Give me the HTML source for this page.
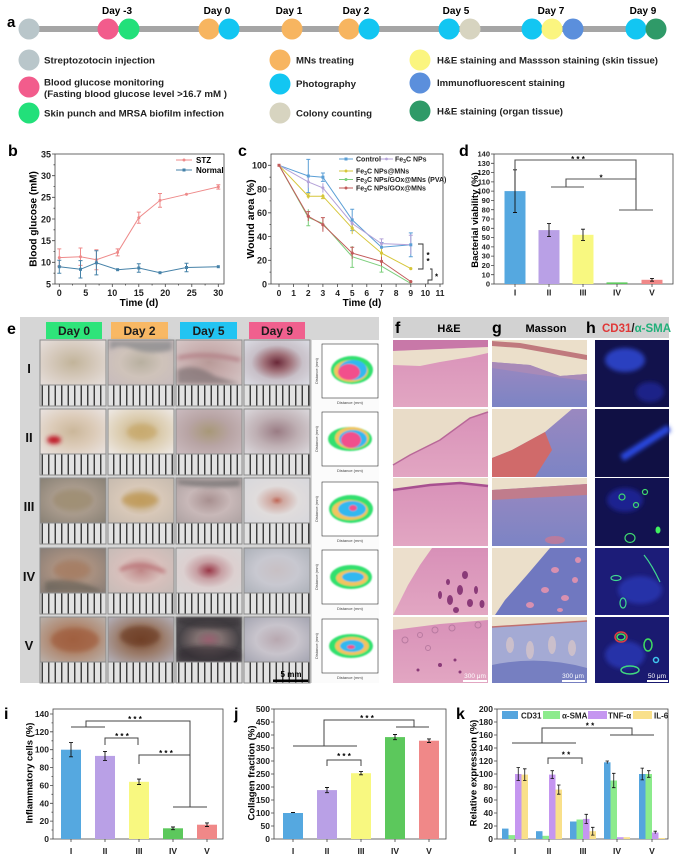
<!DOCTYPE html>
<html><head><meta charset="utf-8">
<style>
html,body{margin:0;padding:0;background:#fff;}
svg{display:block;font-family:"Liberation Sans",Arial,sans-serif;font-weight:bold;}
</style></head><body>
<svg width="691" height="866" viewBox="0 0 691 866" xmlns="http://www.w3.org/2000/svg">
<defs>
 <pattern id="ruler" x="0" y="0" width="6.5" height="30" patternUnits="userSpaceOnUse">
  <rect width="6.5" height="30" fill="#e2e2e2"/>
  <rect x="2.6" y="0" width="1.3" height="30" fill="#2b2b2b"/>
 </pattern>
 <filter id="bl" x="-20%" y="-20%" width="140%" height="140%"><feGaussianBlur stdDeviation="2"/></filter>
 <filter id="bl1"><feGaussianBlur stdDeviation="0.8"/></filter>
 <radialGradient id="p11" r="65%"><stop offset="0" stop-color="#c2b49a"/><stop offset=".55" stop-color="#d6cabd"/><stop offset="1" stop-color="#e4dcd8"/></radialGradient>
 <radialGradient id="p12" r="65%"><stop offset="0" stop-color="#b8b0a0"/><stop offset=".5" stop-color="#cfc3ba"/><stop offset="1" stop-color="#c8bcbc"/></radialGradient>
 <radialGradient id="p13" r="65%"><stop offset="0" stop-color="#b89a98"/><stop offset=".5" stop-color="#c8aeae"/><stop offset="1" stop-color="#d4c4c4"/></radialGradient>
 <radialGradient id="p14" r="65%"><stop offset="0" stop-color="#6a2838"/><stop offset=".3" stop-color="#a07078"/><stop offset=".6" stop-color="#c8c0c8"/><stop offset="1" stop-color="#d8d8e0"/></radialGradient>
 <radialGradient id="p21" r="65%"><stop offset="0" stop-color="#cbb79a"/><stop offset=".5" stop-color="#dccbb8"/><stop offset="1" stop-color="#e8e0dc"/></radialGradient>
 <radialGradient id="p22" r="65%"><stop offset="0" stop-color="#c8b080"/><stop offset=".5" stop-color="#dccdb0"/><stop offset="1" stop-color="#ece6e0"/></radialGradient>
 <radialGradient id="p23" r="65%"><stop offset="0" stop-color="#a89878"/><stop offset=".5" stop-color="#b8a4a4"/><stop offset="1" stop-color="#c8b8bc"/></radialGradient>
 <radialGradient id="p24" r="65%"><stop offset="0" stop-color="#9a7c84"/><stop offset=".5" stop-color="#bfb0b4"/><stop offset="1" stop-color="#d8d4d8"/></radialGradient>
 <radialGradient id="p31" r="65%"><stop offset="0" stop-color="#a89c80"/><stop offset=".5" stop-color="#a89a8c"/><stop offset="1" stop-color="#8c8478"/></radialGradient>
 <radialGradient id="p32" r="65%"><stop offset="0" stop-color="#c0a470"/><stop offset=".5" stop-color="#d8c8b8"/><stop offset="1" stop-color="#c8bcb0"/></radialGradient>
 <radialGradient id="p33" r="65%"><stop offset="0" stop-color="#a89090"/><stop offset=".5" stop-color="#c8b8b8"/><stop offset="1" stop-color="#b0a4a4"/></radialGradient>
 <radialGradient id="p34" r="65%"><stop offset="0" stop-color="#c06858"/><stop offset=".15" stop-color="#d0a8a0"/><stop offset=".5" stop-color="#e0dcdc"/><stop offset="1" stop-color="#d8d8dc"/></radialGradient>
 <radialGradient id="p41" r="65%"><stop offset="0" stop-color="#a48470"/><stop offset=".5" stop-color="#a89080"/><stop offset="1" stop-color="#8c8078"/></radialGradient>
 <radialGradient id="p42" r="65%"><stop offset="0" stop-color="#c08888"/><stop offset=".5" stop-color="#d8c0bc"/><stop offset="1" stop-color="#c8bcb8"/></radialGradient>
 <radialGradient id="p43" r="65%"><stop offset="0" stop-color="#9a3848"/><stop offset=".3" stop-color="#c8a0a4"/><stop offset=".6" stop-color="#dcd0d0"/><stop offset="1" stop-color="#d8d4d4"/></radialGradient>
 <radialGradient id="p44" r="65%"><stop offset="0" stop-color="#c8c0c4"/><stop offset=".5" stop-color="#c8c8d0"/><stop offset="1" stop-color="#b0b4bc"/></radialGradient>
 <radialGradient id="p51" r="65%"><stop offset="0" stop-color="#a06848"/><stop offset=".5" stop-color="#b08870"/><stop offset="1" stop-color="#b8aca4"/></radialGradient>
 <radialGradient id="p52" r="65%"><stop offset="0" stop-color="#7a4a30"/><stop offset=".5" stop-color="#9a7a68"/><stop offset="1" stop-color="#b0aab0"/></radialGradient>
 <radialGradient id="p53" r="65%"><stop offset="0" stop-color="#986070"/><stop offset=".3" stop-color="#807070"/><stop offset=".7" stop-color="#484448"/><stop offset="1" stop-color="#585458"/></radialGradient>
 <radialGradient id="p54" r="65%"><stop offset="0" stop-color="#b8a8b0"/><stop offset=".5" stop-color="#c8c4cc"/><stop offset="1" stop-color="#a8a8b4"/></radialGradient>
 <linearGradient id="he" x1="0" y1="0" x2="0" y2="1"><stop offset="0" stop-color="#d890b8"/><stop offset="1" stop-color="#e2a6c2"/></linearGradient>
 <linearGradient id="ms" x1="0" y1="0" x2="0" y2="1"><stop offset="0" stop-color="#9a88c0"/><stop offset="1" stop-color="#7c84c4"/></linearGradient>
</defs>

<!-- ===================== Panel a ===================== -->
<text x="7" y="27" font-size="15">a</text>
<g font-size="10" text-anchor="middle">
 <text x="117" y="14">Day -3</text>
 <text x="217" y="14">Day 0</text>
 <text x="289" y="14">Day 1</text>
 <text x="356" y="14">Day 2</text>
 <text x="456" y="14">Day 5</text>
 <text x="551" y="14">Day 7</text>
 <text x="643" y="14">Day 9</text>
</g>
<rect x="29" y="26" width="627" height="6" fill="#a5a5a5"/>
<g>
 <circle cx="29" cy="29" r="10.5" fill="#b9c6ca"/>
 <circle cx="108" cy="29" r="10.5" fill="#f25c8c"/>
 <circle cx="129" cy="29" r="10.5" fill="#22e07a"/>
 <circle cx="209" cy="29" r="10.5" fill="#f7b560"/>
 <circle cx="229" cy="29" r="10.5" fill="#12c6f2"/>
 <circle cx="292" cy="29" r="10.5" fill="#f7b560"/>
 <circle cx="349" cy="29" r="10.5" fill="#f7b560"/>
 <circle cx="369" cy="29" r="10.5" fill="#12c6f2"/>
 <circle cx="449" cy="29" r="10.5" fill="#12c6f2"/>
 <circle cx="470" cy="29" r="10.5" fill="#d7d4c0"/>
 <circle cx="532" cy="29" r="10.5" fill="#12c6f2"/>
 <circle cx="552" cy="29" r="10.5" fill="#fbf57f"/>
 <circle cx="573" cy="29" r="10.5" fill="#5b8fdc"/>
 <circle cx="636" cy="29" r="10.5" fill="#12c6f2"/>
 <circle cx="656" cy="29" r="10.5" fill="#2f9a68"/>
</g>
<g>
 <circle cx="29" cy="60" r="10.5" fill="#b9c6ca"/>
 <circle cx="29" cy="87" r="10.5" fill="#f25c8c"/>
 <circle cx="29" cy="113" r="10.5" fill="#22e07a"/>
 <circle cx="280" cy="60" r="10.5" fill="#f7b560"/>
 <circle cx="280" cy="84" r="10.5" fill="#12c6f2"/>
 <circle cx="280" cy="113" r="10.5" fill="#d7d4c0"/>
 <circle cx="420" cy="60" r="10.5" fill="#fbf57f"/>
 <circle cx="420" cy="83" r="10.5" fill="#5b8fdc"/>
 <circle cx="420" cy="111" r="10.5" fill="#2f9a68"/>
</g>
<g font-size="9.5" fill="#222">
 <text x="44" y="63.5" textLength="111" lengthAdjust="spacingAndGlyphs">Streptozotocin injection</text>
 <text x="44" y="85.5" textLength="120" lengthAdjust="spacingAndGlyphs">Blood glucose monitoring</text>
 <text x="44" y="97" textLength="183" lengthAdjust="spacingAndGlyphs">(Fasting blood glucose level &gt;16.7 mM )</text>
 <text x="44" y="116.5" textLength="180" lengthAdjust="spacingAndGlyphs">Skin punch and MRSA biofilm infection</text>
 <text x="296" y="63.5" textLength="58" lengthAdjust="spacingAndGlyphs">MNs treating</text>
 <text x="296" y="87" textLength="60" lengthAdjust="spacingAndGlyphs">Photography</text>
 <text x="296" y="116.5" textLength="76" lengthAdjust="spacingAndGlyphs">Colony counting</text>
 <text x="437" y="63.5" textLength="221" lengthAdjust="spacingAndGlyphs">H&amp;E staining and Massson staining (skin tissue)</text>
 <text x="437" y="86" textLength="128" lengthAdjust="spacingAndGlyphs">Immunofluorescent staining</text>
 <text x="437" y="114.5" textLength="126" lengthAdjust="spacingAndGlyphs">H&amp;E staining (organ tissue)</text>
</g>

<!-- ===================== Panel b ===================== -->
<text x="8" y="156" font-size="16">b</text>
<rect x="55" y="154" width="169" height="130" fill="none" stroke="#444" stroke-width="0.8"/>
<g stroke="#444" stroke-width="0.8">
 <path d="M52,284H55M52,262.3H55M52,240.7H55M52,219H55M52,197.3H55M52,175.7H55M52,154H55"/>
 <path d="M53.5,273.2H55M53.5,251.5H55M53.5,229.8H55M53.5,208.2H55M53.5,186.5H55M53.5,164.8H55"/>
 <path d="M59.3,284V287M85.8,284V287M112.3,284V287M138.8,284V287M165.3,284V287M191.8,284V287M218.3,284V287"/>
 <path d="M72.6,284V285.5M99.1,284V285.5M125.6,284V285.5M152.1,284V285.5M178.6,284V285.5M205.1,284V285.5"/>
</g>
<g font-size="9" text-anchor="end" fill="#222">
 <text x="51" y="287.3">5</text><text x="51" y="265.6">10</text><text x="51" y="244">15</text>
 <text x="51" y="222.3">20</text><text x="51" y="200.6">25</text><text x="51" y="179">30</text><text x="51" y="157.3">35</text>
</g>
<g font-size="9" text-anchor="middle" fill="#222">
 <text x="59.3" y="296">0</text><text x="85.8" y="296">5</text><text x="112.3" y="296">10</text><text x="138.8" y="296">15</text>
 <text x="165.3" y="296">20</text><text x="191.8" y="296">25</text><text x="218.3" y="296">30</text>
</g>
<text x="139" y="306" font-size="10" text-anchor="middle">Time (d)</text>
<text transform="translate(36.5,219) rotate(-90)" font-size="10" text-anchor="middle">Blood glucose (mM)</text>
<!-- STZ -->
<g stroke="#ee8a8a" stroke-width="1" fill="none">
 <polyline points="59.3,257.6 80.5,256.7 96.4,259.7 117.6,252.4 138.8,217.7 160,200.4 186.5,194.3 218.3,186.9"/>
 <path d="M59.3,248.9V266.3M57.3,248.9H61.3M57.3,266.3H61.3 M80.5,248V265.4M78.5,248H82.5M78.5,265.4H82.5 M96.4,249.7V269.7M94.4,249.7H98.4M94.4,269.7H98.4 M117.6,248.9V255.9M115.6,248.9H119.6M115.6,255.9H119.6 M138.8,212.1V223.3M136.8,212.1H140.8M136.8,223.3H140.8 M160,193.5V207.3M158,193.5H162M158,207.3H162 M186.5,193V195.6 M218.3,184.7V189.1M216.3,184.7H220.3M216.3,189.1H220.3"/>
</g>
<g fill="#ee8a8a"><circle cx="59.3" cy="257.6" r="1.5"/><circle cx="80.5" cy="256.7" r="1.5"/><circle cx="96.4" cy="259.7" r="1.5"/><circle cx="117.6" cy="252.4" r="1.5"/><circle cx="138.8" cy="217.7" r="1.5"/><circle cx="160" cy="200.4" r="1.5"/><circle cx="186.5" cy="194.3" r="1.5"/><circle cx="218.3" cy="186.9" r="1.5"/></g>
<!-- Normal -->
<g stroke="#4682a8" stroke-width="1" fill="none">
 <polyline points="59.3,266.7 80.5,269.3 96.4,262.8 117.6,269.7 138.8,268 160,272.7 186.5,267.5 218.3,266.7"/>
 <path d="M59.3,260.2V273.2M57.3,260.2H61.3M57.3,273.2H61.3 M80.5,260.6V278M78.5,260.6H82.5M78.5,278H82.5 M96.4,250.7V274.9M94.4,250.7H98.4M94.4,274.9H98.4 M138.8,263.7V272.3M136.8,263.7H140.8M136.8,272.3H140.8 M186.5,263.2V271.8M184.5,263.2H188.5M184.5,271.8H188.5"/>
</g>
<g fill="#4682a8"><rect x="57.8" y="265.2" width="3" height="3"/><rect x="79" y="267.8" width="3" height="3"/><rect x="94.9" y="261.3" width="3" height="3"/><rect x="116.1" y="268.2" width="3" height="3"/><rect x="137.3" y="266.5" width="3" height="3"/><rect x="158.5" y="271.2" width="3" height="3"/><rect x="185" y="266" width="3" height="3"/><rect x="216.8" y="265.2" width="3" height="3"/></g>
<line x1="176" y1="160" x2="192" y2="160" stroke="#ee8a8a" stroke-width="1"/><circle cx="184" cy="160" r="1.5" fill="#ee8a8a"/>
<text x="196" y="163" font-size="8">STZ</text>
<line x1="176" y1="170" x2="192" y2="170" stroke="#4682a8" stroke-width="1"/><rect x="182.5" y="168.5" width="3" height="3" fill="#4682a8"/>
<text x="196" y="173" font-size="8">Normal</text>

<!-- ===================== Panel c ===================== -->
<text x="238" y="156" font-size="16">c</text>
<rect x="271" y="154" width="172" height="130" fill="none" stroke="#444" stroke-width="0.8"/>
<g stroke="#444" stroke-width="0.8">
 <path d="M268,284H271M268,260.3H271M268,236.5H271M268,212.8H271M268,189H271M268,165.3H271"/>
 <path d="M269.5,272.1H271M269.5,248.4H271M269.5,224.6H271M269.5,200.9H271M269.5,177.2H271"/>
 <path d="M279,284V287M293.6,284V287M308.3,284V287M322.9,284V287M337.6,284V287M352.2,284V287M366.8,284V287M381.5,284V287M396.1,284V287M410.8,284V287M425.4,284V287M440,284V287"/>
</g>
<g font-size="9" text-anchor="end" fill="#222">
 <text x="267" y="287.3">0</text><text x="267" y="263.6">20</text><text x="267" y="239.8">40</text>
 <text x="267" y="216.1">60</text><text x="267" y="192.3">80</text><text x="267" y="168.6">100</text>
</g>
<g font-size="8.5" text-anchor="middle" fill="#222">
 <text x="279" y="296">0</text><text x="293.6" y="296">1</text><text x="308.3" y="296">2</text><text x="322.9" y="296">3</text>
 <text x="337.6" y="296">4</text><text x="352.2" y="296">5</text><text x="366.8" y="296">6</text><text x="381.5" y="296">7</text>
 <text x="396.1" y="296">8</text><text x="410.8" y="296">9</text><text x="425.4" y="296">10</text><text x="440" y="296">11</text>
</g>
<text x="362" y="306" font-size="10" text-anchor="middle">Time (d)</text>
<text transform="translate(254,219) rotate(-90)" font-size="10.5" text-anchor="middle">Wound area (%)</text>
<g fill="none" stroke-width="1">
 <g stroke="#5b9fd6">
  <polyline points="279,165.3 308.3,176 322.9,177.2 352.2,219.9 381.5,247.2 410.8,244.8"/>
  <path d="M308.3,159.4V192.6M306.3,159.4H310.3M306.3,192.6H310.3 M322.9,173V181.4M320.9,173H324.9M320.9,181.4H324.9 M352.2,209.2V230.6M350.2,209.2H354.2M350.2,230.6H354.2 M381.5,242.5V251.9M379.5,242.5H383.5 M410.8,232.9V256.7M408.8,232.9H412.8M408.8,256.7H412.8"/>
 </g>
 <g stroke="#b4a2d8">
  <polyline points="279,165.3 308.3,181.9 322.9,187.9 352.2,223.5 381.5,243.6 410.8,244.8"/>
  <path d="M308.3,176V187.8M322.9,183.2V192.6M352.2,216.4V230.6M381.5,238.9V248.3M379.5,238.9H383.5M410.8,235.3V254.3M408.8,235.3H412.8"/>
 </g>
 <g stroke="#d6c63a">
  <polyline points="279,165.3 308.3,196.2 322.9,196.2 352.2,228.2 381.5,253.1 410.8,268.6"/>
  <path d="M308.3,193.8V198.6M306.3,193.8H310.3M322.9,193.8V198.6M320.9,198.6H324.9M352.2,222.3V234.1M381.5,247.2V259"/>
 </g>
 <g stroke="#7ccf7c">
  <polyline points="279,165.3 308.3,217.5 322.9,223.5 352.2,256.7 381.5,266.2 410.8,283.4"/>
  <path d="M308.3,209.2V225.8M306.3,225.8H310.3M322.9,217.6V229.4M352.2,246V267.4M350.2,267.4H354.2M381.5,260.3V272.1M379.5,272.1H383.5"/>
 </g>
 <g stroke="#c25a5a">
  <polyline points="279,165.3 308.3,216.3 322.9,224.7 352.2,253.1 381.5,261.4 410.8,281.6"/>
  <path d="M308.3,211.6V221M306.3,211.6H310.3M322.9,217.6V231.8M320.9,217.6H324.9M352.2,247.2V259M350.2,247.2H354.2M381.5,256.7V266.1M410.8,280.4V282.8"/>
 </g>
</g>
<g>
 <rect x="277.5" y="163.8" width="3" height="3" fill="#c25a5a"/>
 <rect x="306.8" y="174.5" width="3" height="3" fill="#5b9fd6"/><rect x="321.4" y="175.7" width="3" height="3" fill="#5b9fd6"/><rect x="350.7" y="218.4" width="3" height="3" fill="#5b9fd6"/><rect x="380" y="245.7" width="3" height="3" fill="#5b9fd6"/><rect x="409.3" y="243.3" width="3" height="3" fill="#5b9fd6"/>
 <circle cx="308.3" cy="181.9" r="1.5" fill="#b4a2d8"/><circle cx="322.9" cy="187.9" r="1.5" fill="#b4a2d8"/><circle cx="352.2" cy="223.5" r="1.5" fill="#b4a2d8"/><circle cx="381.5" cy="243.6" r="1.5" fill="#b4a2d8"/>
 <circle cx="308.3" cy="196.2" r="1.6" fill="#d6c63a"/><circle cx="322.9" cy="196.2" r="1.6" fill="#d6c63a"/><circle cx="352.2" cy="228.2" r="1.6" fill="#d6c63a"/><circle cx="381.5" cy="253.1" r="1.6" fill="#d6c63a"/><circle cx="410.8" cy="268.6" r="1.6" fill="#d6c63a"/>
 <circle cx="308.3" cy="216.3" r="1.6" fill="#c25a5a"/><circle cx="322.9" cy="224.7" r="1.6" fill="#c25a5a"/><circle cx="352.2" cy="253.1" r="1.6" fill="#c25a5a"/><circle cx="381.5" cy="261.4" r="1.6" fill="#c25a5a"/><circle cx="410.8" cy="281.6" r="1.6" fill="#c25a5a"/>
</g>
<!-- c legend -->
<g stroke-width="1">
 <line x1="339" y1="159" x2="353" y2="159" stroke="#5b9fd6"/><line x1="380" y1="159" x2="393" y2="159" stroke="#b4a2d8"/>
 <line x1="339" y1="171" x2="353" y2="171" stroke="#d6c63a"/>
 <line x1="339" y1="179.5" x2="353" y2="179.5" stroke="#7ccf7c"/>
 <line x1="339" y1="188" x2="353" y2="188" stroke="#c25a5a"/>
</g>
<rect x="344.5" y="157.5" width="3" height="3" fill="#5b9fd6"/><circle cx="386.5" cy="159" r="1.4" fill="#b4a2d8"/>
<circle cx="346" cy="171" r="1.5" fill="#d6c63a"/><circle cx="346" cy="179.5" r="1.5" fill="#7ccf7c"/><circle cx="346" cy="188" r="1.5" fill="#c25a5a"/>
<g font-size="7" fill="#222">
 <text x="356" y="161.5">Control</text>
 <text x="395" y="161.5">Fe<tspan font-size="5" dy="1.5">3</tspan><tspan dy="-1.5">C NPs</tspan></text>
 <text x="356" y="173.5">Fe<tspan font-size="5" dy="1.5">3</tspan><tspan dy="-1.5">C NPs@MNs</tspan></text>
 <text x="356" y="182">Fe<tspan font-size="5" dy="1.5">3</tspan><tspan dy="-1.5">C NPs/GOx@MNs (PVA)</tspan></text>
 <text x="356" y="190.5">Fe<tspan font-size="5" dy="1.5">3</tspan><tspan dy="-1.5">C NPs/GOx@MNs</tspan></text>
</g>
<path d="M418,244H423V269H418" fill="none" stroke="#333" stroke-width="0.9"/>
<g font-size="8" text-anchor="middle"><text x="428" y="258">*</text><text x="428" y="264">*</text><text x="436.5" y="279.5">*</text></g>
<path d="M430,269H432V280H428V284" fill="none" stroke="#333" stroke-width="0.9"/>

<!-- ===================== Panel d ===================== -->
<text x="459" y="156" font-size="16">d</text>
<rect x="494" y="154" width="179" height="130" fill="none" stroke="#444" stroke-width="0.8"/>
<g stroke="#444" stroke-width="0.8">
 <path d="M491,284H494M491,274.7H494M491,265.4H494M491,256.1H494M491,246.9H494M491,237.6H494M491,228.3H494M491,219H494M491,209.7H494M491,200.4H494M491,191.1H494M491,181.9H494M491,172.6H494M491,163.3H494M491,154H494"/>
 <path d="M515,284V287M549,284V287M583,284V287M617,284V287M652,284V287"/>
</g>
<g font-size="7.5" text-anchor="end" fill="#222">
 <text x="490" y="286.6">0</text><text x="490" y="277.3">10</text><text x="490" y="268">20</text><text x="490" y="258.7">30</text>
 <text x="490" y="249.5">40</text><text x="490" y="240.2">50</text><text x="490" y="230.9">60</text><text x="490" y="221.6">70</text>
 <text x="490" y="212.3">80</text><text x="490" y="203">90</text><text x="490" y="193.7">100</text><text x="490" y="184.5">110</text>
 <text x="490" y="175.2">120</text><text x="490" y="165.9">130</text><text x="490" y="156.6">140</text>
</g>
<g font-size="8.5" text-anchor="middle" fill="#222">
 <text x="515" y="295.5">I</text><text x="549" y="295.5">II</text><text x="583" y="295.5">III</text><text x="617" y="295.5">IV</text><text x="652" y="295.5">V</text>
</g>
<text transform="translate(478,220) rotate(-90)" font-size="9.5" text-anchor="middle">Bacterial viability (%)</text>
<rect x="504.5" y="191.1" width="21" height="92.9" fill="#55a8e0"/>
<rect x="538.5" y="230.1" width="21" height="53.9" fill="#b9a0e6"/>
<rect x="572.5" y="234.8" width="21" height="49.2" fill="#f8f880"/>
<rect x="606.5" y="282.4" width="21" height="1.6" fill="#5cc85c"/>
<rect x="641.5" y="279.8" width="21" height="4.2" fill="#f08888"/>
<path d="M515,169.8V212.5M513,169.8H517M513,212.5H517 M549,223.6V236.6M547,223.6H551M547,236.6H551 M583,229.2V240.4M581,229.2H585M581,240.4H585 M652,278.4V281.2M650,278.4H654M650,281.2H654" stroke="#111" stroke-width="0.9" fill="none"/>
<path d="M515,170V160H636V210M619,210H653 M566,187V179H636M551,187H584" stroke="#555" stroke-width="1.1" fill="none"/>
<g font-size="8" text-anchor="middle"><text x="578" y="162">* * *</text><text x="601" y="180.5">*</text></g>

<!-- ===================== Panel e ===================== -->
<text x="7" y="334" font-size="16">e</text>
<rect x="20" y="317" width="359" height="366" fill="#d6d6d6"/>
<rect x="312" y="340" width="67" height="343" fill="#fbfbfb"/>
<rect x="46" y="322" width="56" height="17" fill="#2ee47a"/>
<rect x="111" y="322" width="57" height="17" fill="#f8b864"/>
<rect x="180" y="322" width="57" height="17" fill="#22c4f2"/>
<rect x="249" y="322" width="56" height="17" fill="#f0608e"/>
<g font-size="12" text-anchor="middle" fill="#1c1c1c">
 <text x="74" y="335">Day 0</text><text x="139.5" y="335">Day 2</text><text x="208.5" y="335">Day 5</text><text x="277" y="335">Day 9</text>
</g>
<g font-size="13" text-anchor="middle" fill="#111">
 <text x="29" y="373">I</text><text x="29" y="442">II</text><text x="29" y="511">III</text><text x="29" y="581">IV</text><text x="29" y="650">V</text>
</g>
<g stroke="#8c8c8c" stroke-width="1">
 <rect x="40" y="340" width="66" height="45" fill="url(#p11)"/>
 <rect x="108" y="340" width="66" height="45" fill="url(#p12)"/>
 <rect x="176" y="340" width="66" height="45" fill="url(#p13)"/>
 <rect x="244" y="340" width="66" height="45" fill="url(#p14)"/>
 <rect x="40" y="409" width="66" height="45" fill="url(#p21)"/>
 <rect x="108" y="409" width="66" height="45" fill="url(#p22)"/>
 <rect x="176" y="409" width="66" height="45" fill="url(#p23)"/>
 <rect x="244" y="409" width="66" height="45" fill="url(#p24)"/>
 <rect x="40" y="478" width="66" height="45" fill="url(#p31)"/>
 <rect x="108" y="478" width="66" height="45" fill="url(#p32)"/>
 <rect x="176" y="478" width="66" height="45" fill="url(#p33)"/>
 <rect x="244" y="478" width="66" height="45" fill="url(#p34)"/>
 <rect x="40" y="548" width="66" height="45" fill="url(#p41)"/>
 <rect x="108" y="548" width="66" height="45" fill="url(#p42)"/>
 <rect x="176" y="548" width="66" height="45" fill="url(#p43)"/>
 <rect x="244" y="548" width="66" height="45" fill="url(#p44)"/>
 <rect x="40" y="617" width="66" height="45" fill="url(#p51)"/>
 <rect x="108" y="617" width="66" height="45" fill="url(#p52)"/>
 <rect x="176" y="617" width="66" height="45" fill="url(#p53)"/>
 <rect x="244" y="617" width="66" height="45" fill="url(#p54)"/>
</g>
<g filter="url(#bl)">
 <path d="M110,341H172V350Q150,356 130,348Q118,344 110,350Z" fill="#777a80" opacity=".6"/>
 <path d="M177,370Q195,362 215,376L241,384H177Z" fill="#6e6466" opacity=".6"/>
 <path d="M178,358Q205,352 240,360" stroke="#b07880" stroke-width="3" fill="none"/>
 <ellipse cx="54" cy="440" rx="7" ry="4" fill="#c01c2c"/>
 <ellipse cx="142" cy="432" rx="15" ry="8" fill="#c8a868" opacity=".7"/>
 <ellipse cx="73" cy="500" rx="20" ry="10" fill="#9c8a70" opacity=".7"/>
 <ellipse cx="140" cy="500" rx="18" ry="7" fill="#c09a58" opacity=".8"/>
 <path d="M178,480H240V486Q210,490 178,484Z" fill="#606060" opacity=".6"/>
 <ellipse cx="72" cy="570" rx="18" ry="9" fill="#a67c60" opacity=".7"/>
 <path d="M45,582Q70,575 100,590L100,592H45Z" fill="#505048" opacity=".5"/>
 <path d="M120,570Q140,560 165,572" stroke="#b86a70" stroke-width="3" fill="none"/>
 <ellipse cx="75" cy="640" rx="24" ry="12" fill="#a05c3c" opacity=".7"/>
 <ellipse cx="140" cy="636" rx="20" ry="10" fill="#6c3c24" opacity=".7"/>
 <path d="M178,618H240V626Q210,632 178,624Z" fill="#383436" opacity=".7"/>
 <path d="M178,650Q210,640 241,652V661H178Z" fill="#2c2a2c" opacity=".6"/>
</g>
<g fill="url(#ruler)" stroke="#8c8c8c" stroke-width="1">
 <rect x="40" y="385" width="66" height="21"/><rect x="108" y="385" width="66" height="21"/><rect x="176" y="385" width="66" height="21"/><rect x="244" y="385" width="66" height="21"/>
 <rect x="40" y="454" width="66" height="21"/><rect x="108" y="454" width="66" height="21"/><rect x="176" y="454" width="66" height="21"/><rect x="244" y="454" width="66" height="21"/>
 <rect x="40" y="523" width="66" height="21"/><rect x="108" y="523" width="66" height="21"/><rect x="176" y="523" width="66" height="21"/><rect x="244" y="523" width="66" height="21"/>
 <rect x="40" y="593" width="66" height="21"/><rect x="108" y="593" width="66" height="21"/><rect x="176" y="593" width="66" height="21"/><rect x="244" y="593" width="66" height="21"/>
 <rect x="40" y="662" width="66" height="21"/><rect x="108" y="662" width="66" height="21"/><rect x="176" y="662" width="66" height="21"/><rect x="244" y="662" width="66" height="21"/>
</g>
<rect x="273" y="679.5" width="35" height="2.5" fill="#000"/>
<text x="291" y="677" font-size="8" text-anchor="middle" fill="#000">5 mm</text>
<g>
 <g stroke="#333" stroke-width="0.6" fill="#fff">
  <rect x="322" y="344" width="56" height="54"/>
  <rect x="322" y="412" width="56" height="54"/>
  <rect x="322" y="482" width="56" height="54"/>
  <rect x="322" y="550" width="56" height="54"/>
  <rect x="322" y="619" width="56" height="54"/>
 </g>
 <g filter="url(#bl1)">
  <ellipse cx="352" cy="370" rx="21" ry="14" fill="#33e06e"/><ellipse cx="351" cy="371" rx="17" ry="11" fill="#f2c45e"/><ellipse cx="353" cy="370" rx="14" ry="10" fill="#32b8f0"/><ellipse cx="349" cy="372" rx="11" ry="8" fill="#f2508c"/>
  <ellipse cx="350" cy="439" rx="22" ry="12" fill="#33e06e"/><ellipse cx="352" cy="438" rx="17" ry="11" fill="#f2c45e"/><ellipse cx="353" cy="439" rx="14" ry="9" fill="#32b8f0"/><ellipse cx="351" cy="440" rx="10" ry="8" fill="#f2508c"/>
  <ellipse cx="351" cy="509" rx="22" ry="14" fill="#33e06e"/><ellipse cx="350" cy="510" rx="18" ry="10" fill="#f2c45e"/><ellipse cx="352" cy="509" rx="14" ry="8" fill="#32b8f0"/><ellipse cx="353" cy="508" rx="4" ry="3" fill="#f2508c"/>
  <ellipse cx="351" cy="577" rx="21" ry="12" fill="#33e06e"/><ellipse cx="352" cy="578" rx="16" ry="8" fill="#f2c45e"/><ellipse cx="353" cy="577" rx="11" ry="5" fill="#32b8f0"/>
  <ellipse cx="351" cy="646" rx="22" ry="12" fill="#33e06e"/><ellipse cx="352" cy="646" rx="17" ry="9" fill="#f2c45e"/><ellipse cx="352" cy="646" rx="12" ry="6" fill="#32b8f0"/><ellipse cx="351" cy="647" rx="4" ry="2" fill="#f2508c"/>
 </g>
 <g font-size="4" font-weight="normal" text-anchor="middle" fill="#444">
  <text x="350" y="404">Distance (mm)</text><text x="350" y="472">Distance (mm)</text><text x="350" y="542">Distance (mm)</text><text x="350" y="610">Distance (mm)</text><text x="350" y="679">Distance (mm)</text>
  <text transform="translate(318,371) rotate(-90)">Distance (mm)</text><text transform="translate(318,439) rotate(-90)">Distance (mm)</text><text transform="translate(318,509) rotate(-90)">Distance (mm)</text><text transform="translate(318,577) rotate(-90)">Distance (mm)</text><text transform="translate(318,646) rotate(-90)">Distance (mm)</text>
 </g>
</g>

<!-- ===================== Panels f g h ===================== -->
<rect x="393" y="317" width="276" height="21" fill="#d2d2d2"/>
<text x="395" y="333" font-size="16">f</text>
<text x="449" y="332" font-size="11" text-anchor="middle">H&amp;E</text>
<text x="492" y="333" font-size="16">g</text>
<text x="546" y="332" font-size="11" text-anchor="middle">Masson</text>
<text x="586" y="333" font-size="16">h</text>
<text x="602" y="332" font-size="11.5"><tspan fill="#e03838">CD31</tspan><tspan fill="#222">/</tspan><tspan fill="#22b07a">α-SMA</tspan></text>
<g>
 <rect x="393" y="340" width="95" height="67" fill="url(#he)"/>
 <path d="M393,340H488V347L393,351Z" fill="#c878a8"/>
 <path d="M393,351L440,349L488,347V353L470,357L440,362L420,366L393,365Z" fill="#ebdecb"/>
 <rect x="393" y="409" width="95" height="68" fill="url(#he)"/>
 <path d="M393,409H488V412L470,418L440,440L410,455L393,465Z" fill="#e9dcc8"/>
 <path d="M393,465L410,455L440,440L470,418L488,412" stroke="#b86898" stroke-width="1.5" fill="none"/>
 <rect x="393" y="478" width="95" height="68" fill="url(#he)"/>
 <path d="M393,478H488V486L460,483L430,485L393,490Z" fill="#ecdfcc"/>
 <path d="M393,490L430,485L460,483L488,486" stroke="#a85090" stroke-width="2.5" fill="none"/>
 <rect x="393" y="548" width="95" height="67" fill="url(#he)"/>
 <path d="M393,548H432L420,565L408,585L398,605L393,615Z" fill="#ecdfcc"/>
 <g fill="#8a3a78">
  <ellipse cx="460" cy="590" rx="3" ry="5"/><ellipse cx="450" cy="600" rx="3" ry="5"/><ellipse cx="470" cy="603" rx="3" ry="4"/><ellipse cx="440" cy="595" rx="2" ry="4"/><ellipse cx="465" cy="575" rx="3" ry="4"/><ellipse cx="476" cy="590" rx="2" ry="4"/><ellipse cx="456" cy="610" rx="3" ry="3"/><ellipse cx="482" cy="604" rx="2.5" ry="4"/><ellipse cx="448" cy="582" rx="2" ry="3"/>
 </g>
 <rect x="393" y="617" width="95" height="66" fill="url(#he)"/>
 <path d="M393,617H488V620L440,624L393,630Z" fill="#ecdfcc"/>
 <g fill="none" stroke="#b87aa0" stroke-width="1"><circle cx="405" cy="640" r="3"/><circle cx="420" cy="635" r="2.5"/><circle cx="435" cy="630" r="3"/><circle cx="452" cy="628" r="3"/><circle cx="478" cy="625" r="3"/><circle cx="428" cy="648" r="2.5"/></g>
 <g fill="#8a3a78"><circle cx="440" cy="665" r="2"/><circle cx="455" cy="660" r="1.5"/><circle cx="418" cy="670" r="1.5"/><circle cx="460" cy="672" r="1.5"/></g>
 <rect x="463" y="680" width="24" height="2" fill="#fff"/>
 <text x="475" y="678" font-size="6.5" font-weight="normal" text-anchor="middle" fill="#fff">300 μm</text>
</g>
<g>
 <rect x="492" y="340" width="95" height="67" fill="#ebdfca"/>
 <path d="M492,341L520,343L587,355V360L520,348L492,346Z" fill="#c07a7e"/>
 <path d="M492,362L530,365L560,376L587,374V407H492Z" fill="url(#ms)"/>
 <path d="M492,362L530,365L560,376L587,374V381L540,375L492,368Z" fill="#a88ab8"/>
 <rect x="492" y="409" width="95" height="68" fill="url(#ms)"/>
 <path d="M492,409H572L545,432L512,450L492,458Z" fill="#ebdfca"/>
 <path d="M492,458L512,450L545,432L552,450L535,477H492Z" fill="#d06a6a"/>
 <rect x="492" y="478" width="95" height="68" fill="url(#ms)"/>
 <path d="M492,478H587V484L492,490Z" fill="#ebdfca"/>
 <path d="M492,490L587,484V495L492,500Z" fill="#c07c8c"/>
 <ellipse cx="555" cy="540" rx="10" ry="4" fill="#d07890" opacity=".7"/>
 <rect x="492" y="548" width="95" height="67" fill="#7078c0"/>
 <path d="M492,548H550L527,575L505,600L495,615H492Z" fill="#ebdfca"/>
 <g fill="#d890b0"><ellipse cx="555" cy="570" rx="4" ry="3"/><ellipse cx="545" cy="590" rx="4" ry="3"/><ellipse cx="565" cy="598" rx="4" ry="3"/><ellipse cx="575" cy="580" rx="3" ry="3"/><ellipse cx="530" cy="605" rx="4" ry="3"/><ellipse cx="560" cy="610" rx="3" ry="2"/><ellipse cx="578" cy="560" rx="3" ry="3"/></g>
 <rect x="492" y="617" width="95" height="66" fill="#a4aad4"/>
 <path d="M492,617H587V621L492,627Z" fill="#ebdfca"/>
 <path d="M492,627L587,621" stroke="#c07070" stroke-width="1.5"/>
 <path d="M492,665Q540,655 587,668V683H492Z" fill="#6a74bc" opacity=".8"/>
 <g fill="#dcc8c8" opacity=".7"><ellipse cx="510" cy="645" rx="4" ry="8"/><ellipse cx="530" cy="650" rx="4" ry="9"/><ellipse cx="552" cy="645" rx="4" ry="9"/><ellipse cx="572" cy="648" rx="4" ry="8"/></g>
 <rect x="562" y="680" width="23" height="2" fill="#fff"/>
 <text x="573" y="678" font-size="6.5" font-weight="normal" text-anchor="middle" fill="#fff">300 μm</text>
</g>
<g>
 <rect x="595" y="340" width="74" height="67" fill="#12124c"/>
 <ellipse cx="625" cy="360" rx="20" ry="12" fill="#2a40c0" filter="url(#bl)"/>
 <ellipse cx="650" cy="392" rx="14" ry="10" fill="#1c2488" filter="url(#bl)"/>
 <rect x="595" y="409" width="74" height="68" fill="#101044"/>
 <path d="M622,458L669,428" stroke="#2a48e0" stroke-width="7" filter="url(#bl)"/>
 <rect x="595" y="478" width="74" height="68" fill="#121250"/>
 <ellipse cx="625" cy="500" rx="18" ry="12" fill="#1c2490" filter="url(#bl)"/>
 <g fill="none" stroke="#40d870" stroke-width="1.2"><ellipse cx="630" cy="538" rx="5" ry="4.5"/><circle cx="622" cy="497" r="3"/><circle cx="645" cy="492" r="2.5"/><circle cx="636" cy="505" r="2.5"/></g>
 <ellipse cx="658" cy="530" rx="2.5" ry="3.5" fill="#40f060"/>
 <rect x="595" y="548" width="74" height="67" fill="#1c1c78"/>
 <ellipse cx="640" cy="590" rx="22" ry="14" fill="#2830a8" filter="url(#bl)"/>
 <g fill="none" stroke="#40d890" stroke-width="1.2"><path d="M644,555Q652,565 660,582"/><ellipse cx="616" cy="578" rx="5" ry="2.5"/><ellipse cx="623" cy="603" rx="3" ry="5"/></g>
 <rect x="595" y="617" width="74" height="66" fill="#1a1a70"/>
 <ellipse cx="625" cy="655" rx="20" ry="14" fill="#2830a8" filter="url(#bl)"/>
 <g fill="none" stroke-width="1.5"><ellipse cx="621" cy="637" rx="6" ry="5" stroke="#e04040"/><ellipse cx="621" cy="637" rx="4" ry="3" stroke="#40e060"/><ellipse cx="648" cy="645" rx="4" ry="6" stroke="#40e060"/><circle cx="656" cy="660" r="2.5" stroke="#40c8f0"/><ellipse cx="630" cy="670" rx="9" ry="4" stroke="#40d880"/></g>
 <rect x="647" y="680" width="21" height="2" fill="#fff"/>
 <text x="657" y="678" font-size="6.5" font-weight="normal" text-anchor="middle" fill="#fff">50 μm</text>
</g>

<!-- ===================== Panel i ===================== -->
<text x="4" y="719" font-size="16">i</text>
<rect x="53" y="709" width="170" height="130" fill="none" stroke="#444" stroke-width="0.8"/>
<g stroke="#444" stroke-width="0.8">
 <path d="M50,839H53M50,821.1H53M50,803.3H53M50,785.4H53M50,767.6H53M50,749.7H53M50,731.8H53M50,714H53"/>
 <path d="M51.5,830H53M51.5,812.2H53M51.5,794.3H53M51.5,776.5H53M51.5,758.6H53M51.5,740.8H53M51.5,722.9H53"/>
 <path d="M71,839V842M105,839V842M139,839V842M173,839V842M207,839V842"/>
</g>
<g font-size="8.5" text-anchor="end" fill="#222">
 <text x="49" y="842">0</text><text x="49" y="824.1">20</text><text x="49" y="806.3">40</text><text x="49" y="788.4">60</text>
 <text x="49" y="770.6">80</text><text x="49" y="752.7">100</text><text x="49" y="734.8">120</text><text x="49" y="717">140</text>
</g>
<g font-size="8.5" text-anchor="middle" fill="#222">
 <text x="71" y="854">I</text><text x="105" y="854">II</text><text x="139" y="854">III</text><text x="173" y="854">IV</text><text x="207" y="854">V</text>
</g>
<text transform="translate(32.5,773) rotate(-90)" font-size="9.5" text-anchor="middle">Inflammatory cells (%)</text>
<rect x="61" y="749.7" width="20" height="89.3" fill="#55a8e0"/>
<rect x="95" y="755.9" width="20" height="83.1" fill="#b9a0e6"/>
<rect x="129" y="781.8" width="20" height="57.2" fill="#f8f880"/>
<rect x="163" y="828.3" width="20" height="10.7" fill="#5cc85c"/>
<rect x="197" y="824.7" width="20" height="14.3" fill="#f08888"/>
<path d="M71,742.6V756.8M69,742.6H73M69,756.8H73 M105,751.4V760.4M103,751.4H107M103,760.4H107 M139,779.1V784.5M137,779.1H141M137,784.5H141 M173,827V829.7M171,827H175M171,829.7H175 M207,822.9V826.5M205,822.9H209M205,826.5H209" stroke="#111" stroke-width="0.9" fill="none"/>
<path d="M86,727V721H190V807M71,727H105M173,807H207 M105,745V738H138V745 M139,764V755H190" stroke="#444" stroke-width="1" fill="none"/>
<g font-size="8" text-anchor="middle"><text x="135" y="722">* * *</text><text x="122" y="739">* * *</text><text x="166" y="756">* * *</text></g>

<!-- ===================== Panel j ===================== -->
<text x="234" y="719" font-size="16">j</text>
<rect x="274" y="709" width="172" height="130" fill="none" stroke="#444" stroke-width="0.8"/>
<g stroke="#444" stroke-width="0.8">
 <path d="M271,839H274M271,826H274M271,813H274M271,800H274M271,787H274M271,774H274M271,761H274M271,748H274M271,735H274M271,722H274M271,709H274"/>
 <path d="M293,839V842M327,839V842M361,839V842M395,839V842M429,839V842"/>
</g>
<g font-size="8.5" text-anchor="end" fill="#222">
 <text x="270" y="842">0</text><text x="270" y="829">50</text><text x="270" y="816">100</text><text x="270" y="803">150</text>
 <text x="270" y="790">200</text><text x="270" y="777">250</text><text x="270" y="764">300</text><text x="270" y="751">350</text>
 <text x="270" y="738">400</text><text x="270" y="725">450</text><text x="270" y="712">500</text>
</g>
<g font-size="8.5" text-anchor="middle" fill="#222">
 <text x="293" y="854">I</text><text x="327" y="854">II</text><text x="361" y="854">III</text><text x="395" y="854">IV</text><text x="429" y="854">V</text>
</g>
<text transform="translate(254.5,773) rotate(-90)" font-size="9.5" text-anchor="middle">Collagen fraction (%)</text>
<rect x="283" y="813" width="20" height="26" fill="#55a8e0"/>
<rect x="317" y="790.1" width="20" height="48.9" fill="#b9a0e6"/>
<rect x="351" y="773.2" width="20" height="65.8" fill="#f8f880"/>
<rect x="385" y="737.1" width="20" height="101.9" fill="#5cc85c"/>
<rect x="419" y="740.7" width="20" height="98.3" fill="#f08888"/>
<path d="M291,812.5H295 M327,787.5V792.7M325,787.5H329M325,792.7H329 M361,771.6V774.8M359,771.6H363M359,774.8H363 M395,734.5V739.7M393,734.5H397M393,739.7H397 M429,738.9V742.5M427,738.9H431M427,742.5H431" stroke="#111" stroke-width="0.9" fill="none"/>
<path d="M324,746V720H414V727M293,746H357M396,727H429 M327,766V760H361V766" stroke="#444" stroke-width="1" fill="none"/>
<g font-size="8" text-anchor="middle"><text x="367" y="721">* * *</text><text x="344" y="759">* * *</text></g>

<!-- ===================== Panel k ===================== -->
<text x="456" y="719" font-size="16">k</text>
<rect x="497" y="709" width="171" height="130" fill="none" stroke="#444" stroke-width="0.8"/>
<g stroke="#444" stroke-width="0.8">
 <path d="M494,839H497M494,826H497M494,813H497M494,800H497M494,787H497M494,774H497M494,761H497M494,748H497M494,735H497M494,722H497M494,709H497"/>
 <path d="M515,839V842M549,839V842M583,839V842M617,839V842M652,839V842"/>
</g>
<g font-size="8.5" text-anchor="end" fill="#222">
 <text x="493" y="842">0</text><text x="493" y="829">20</text><text x="493" y="816">40</text><text x="493" y="803">60</text>
 <text x="493" y="790">80</text><text x="493" y="777">100</text><text x="493" y="764">120</text><text x="493" y="751">140</text>
 <text x="493" y="738">160</text><text x="493" y="725">180</text><text x="493" y="712">200</text>
</g>
<g font-size="8.5" text-anchor="middle" fill="#222">
 <text x="515" y="854">I</text><text x="549" y="854">II</text><text x="583" y="854">III</text><text x="617" y="854">IV</text><text x="652" y="854">V</text>
</g>
<text transform="translate(476.5,773) rotate(-90)" font-size="9.5" text-anchor="middle">Relative expression (%)</text>
<g>
 <rect x="502" y="828.6" width="6.5" height="10.4" fill="#55a5de"/><rect x="508.5" y="835.1" width="6.5" height="3.9" fill="#8ceb8c"/><rect x="515" y="774" width="6.5" height="65" fill="#c596f0"/><rect x="521.5" y="774.6" width="6.5" height="64.4" fill="#f9e08a"/>
 <rect x="536" y="831.2" width="6.5" height="7.8" fill="#55a5de"/><rect x="542.5" y="835.8" width="6.5" height="3.2" fill="#8ceb8c"/><rect x="549" y="774.6" width="6.5" height="64.4" fill="#c596f0"/><rect x="555.5" y="789.6" width="6.5" height="49.4" fill="#f9e08a"/>
 <rect x="570" y="821.5" width="6.5" height="17.5" fill="#55a5de"/><rect x="576.5" y="819.5" width="6.5" height="19.5" fill="#8ceb8c"/><rect x="583" y="818.9" width="6.5" height="20.1" fill="#c596f0"/><rect x="589.5" y="831.2" width="6.5" height="7.8" fill="#f9e08a"/>
 <rect x="604" y="762.3" width="6.5" height="76.7" fill="#55a5de"/><rect x="610.5" y="780.5" width="6.5" height="58.5" fill="#8ceb8c"/><rect x="617" y="837.2" width="6.5" height="1.8" fill="#c596f0"/><rect x="623.5" y="837.2" width="6.5" height="1.8" fill="#f9e08a"/>
 <rect x="639" y="774" width="6.5" height="65" fill="#55a5de"/><rect x="645.5" y="774" width="6.5" height="65" fill="#8ceb8c"/><rect x="652" y="832.5" width="6.5" height="6.5" fill="#c596f0"/><rect x="658.5" y="838" width="6.5" height="1" fill="#f9e08a"/>
</g>
<path d="M518.25,767.5V780.5M516.5,767.5H520M516.5,780.5H520 M524.75,768.8V780.5M523,768.8H526.5M523,780.5H526.5 M552.25,770.7V778.5M550.5,770.7H554M550.5,778.5H554 M558.75,785V794.2M557,785H560.5M557,794.2H560.5 M586.25,814.3V823.5M584.5,814.3H588M584.5,823.5H588 M592.75,827.3V835.1M591,827.3H594.5M591,835.1H594.5 M607.25,761V763.6M605.5,761H609M613.75,773.3V787.7M612,773.3H615.5M612,787.7H615.5 M642.25,768.1V779.9M640.5,768.1H644M640.5,779.9H644 M648.75,770.7V777.3M647,770.7H650.5M647,777.3H650.5 M655.25,831.2V833.8M653.5,831.2H657" stroke="#111" stroke-width="0.8" fill="none"/>
<path d="M542,743V728H632V735M512,743H576M610,735H654 M548,764V758H582V764" stroke="#444" stroke-width="1" fill="none"/>
<g font-size="8" text-anchor="middle"><text x="590" y="728.5">* *</text><text x="566" y="757.5">* *</text></g>
<rect x="502" y="711" width="16" height="8" fill="#55a5de"/>
<rect x="543" y="711" width="17" height="8" fill="#8ceb8c"/>
<rect x="588" y="711" width="19" height="8" fill="#c596f0"/>
<rect x="633" y="711" width="19" height="8" fill="#f9e08a"/>
<g font-size="8" fill="#222">
 <text x="521" y="718.5">CD31</text><text x="562" y="718.5">α-SMA</text><text x="608" y="718.5">TNF-α</text><text x="654" y="718.5">IL-6</text>
</g>
</svg>
</body></html>
